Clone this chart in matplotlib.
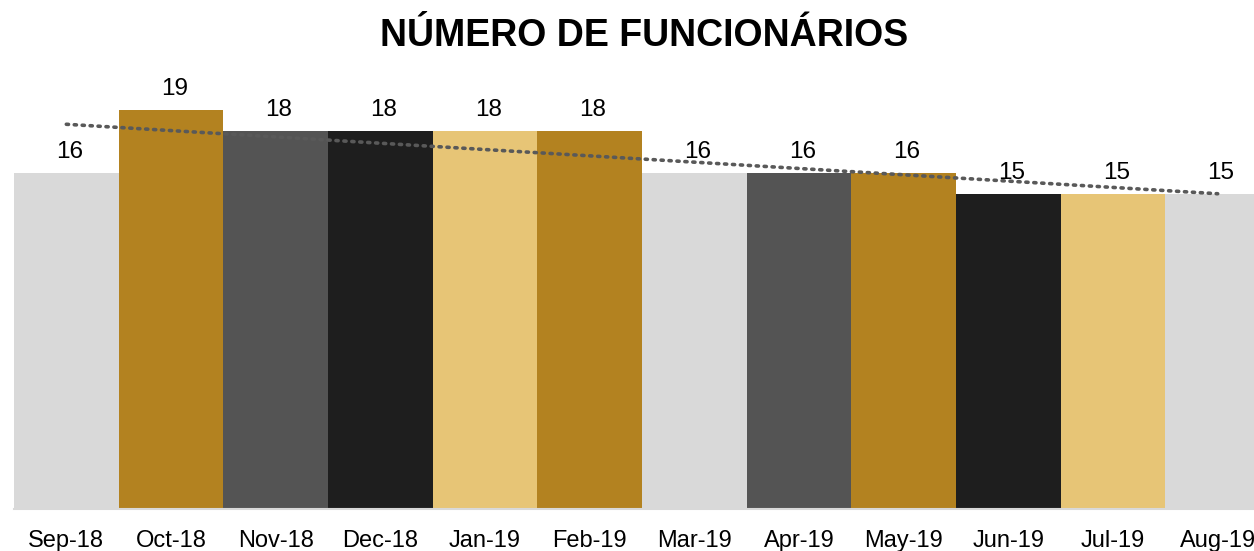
import numpy as np
import matplotlib.pyplot as plt

plt.rcParams['font.family'] = ['Liberation Sans', 'DejaVu Sans']

# Dados
meses = ['Sep-18', 'Oct-18', 'Nov-18', 'Dec-18', 'Jan-19', 'Feb-19',
         'Mar-19', 'Apr-19', 'May-19', 'Jun-19', 'Jul-19', 'Aug-19']
funcionarios = [16, 19, 18, 18, 18, 18, 16, 16, 16, 15, 15, 15]

# Cores das barras
cinza_claro = '#D9D9D9'
dourado = '#B38220'
cinza_escuro = '#545454'
preto = '#1E1E1E'
dourado_claro = '#E7C576'
cores = [cinza_claro, dourado, cinza_escuro, preto, dourado_claro, dourado,
         cinza_claro, cinza_escuro, dourado, preto, dourado_claro, cinza_claro]

fig = plt.figure(figsize=(12.54, 5.51), dpi=100)
ax = fig.add_axes([14 / 1254, 42 / 551, 1256 / 1254, 420 / 551])

x = np.arange(len(meses))
ax.bar(x, funcionarios, width=1.0, color=cores, zorder=2)

# Linha de tendência linear
coef = np.polyfit(x, funcionarios, 1)
ax.plot(x, np.polyval(coef, x), linestyle=(0, (0.6, 1.6)), color='#595959',
        lw=2.6, dash_capstyle='round', zorder=3)

for xi, v in zip(x, funcionarios):
    ax.text(xi + 0.03, v + 0.47, str(v), ha='center', va='bottom', fontsize=17.5)

ax.set_xlim(-0.5, 11.5)
ax.set_ylim(0, 20)
ax.set_xticks(x)
ax.set_xticklabels(meses, fontsize=17)
ax.tick_params(axis='x', length=0, pad=15)
ax.set_yticks([])
for s in ['top', 'right', 'left']:
    ax.spines[s].set_visible(False)
ax.spines['bottom'].set_color('#D9D9D9')
ax.spines['bottom'].set_linewidth(1.5)

fig.text(644 / 1254, 1 - 36 / 551, 'NÚMERO DE FUNCIONÁRIOS', ha='center',
         va='center', fontsize=27, fontweight='bold')

fig.savefig('out.png', dpi=100)
